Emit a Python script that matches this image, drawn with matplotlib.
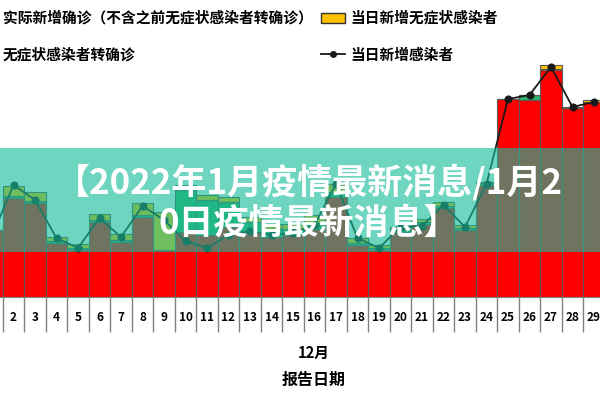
import numpy as np
import matplotlib
matplotlib.use('Agg')
import matplotlib.pyplot as plt
from matplotlib.patches import Patch, Rectangle
from matplotlib.lines import Line2D

plt.rcParams['font.family'] = ['Noto Sans CJK SC', 'DejaVu Sans']

# ---- data ----
days = np.arange(1, 30)
# day 1 sits off the left edge of the crop, its label is not shown
day_labels = [''] + [str(d) for d in days[1:]]
# 实际新增确诊（不含之前无症状感染者转确诊）
confirmed = [67, 99, 94, 54, 47, 75, 55, 80, 47, 65, 62, 70, 65, 60, 62,
             68, 100, 52, 47, 65, 73, 89, 67, 112, 198, 197, 227, 189, 195]
# 无症状感染者转确诊
converted = [0, 2, 2, 2, 2, 2, 2, 2, 0, 42, 35, 25, 10, 8, 6,
             6, 5, 2, 2, 2, 2, 2, 2, 2, 0, 5, 1, 0, 0]
# 当日新增无症状感染者
asymptomatic = [0, 10, 9, 4, 4, 6, 6, 12, 38, 5, 5, 5, 5, 5, 5,
                8, 8, 5, 3, 3, 3, 4, 3, 1, 0, 0, 4, 1, 2]
# 当日新增感染者
infected = [61, 112, 97, 59, 49, 79, 60, 91, 77, 56, 49, 62, 66, 62, 64,
            72, 113, 59, 49, 70, 71, 92, 70, 113, 198, 202, 230, 190, 195]

legend_labels = ['实际新增确诊（不含之前无症状感染者转确诊）', '无症状感染者转确诊',
                 '当日新增无症状感染者', '当日新增感染者']
banner_lines = ['【2022年1月疫情最新消息/1月2', '0日疫情最新消息】']

RED, GREEN, YELLOW = '#FF0000', '#33B06A', '#FFC000'
EDGE = '#5a5a5a'

W, H = 600, 400
def px_box(x0, y0, x1, y1):
    return [x0 / W, 1 - y1 / H, (x1 - x0) / W, (y1 - y0) / H]

fig = plt.figure(figsize=(6, 4), dpi=100)
ax = fig.add_axes(px_box(-18.75, 60, 604.75, 297))

conf = np.array(confirmed)
conv = np.array(converted)
ax.bar(days, conf, width=1.0, color=RED, edgecolor=EDGE, linewidth=0.8)
ax.bar(days, conv, width=1.0, bottom=conf, color=GREEN, edgecolor=EDGE, linewidth=0.8)
ax.bar(days, asymptomatic, width=1.0, bottom=conf + conv, color=YELLOW,
       edgecolor=EDGE, linewidth=0.8)
ax.plot(days, infected, color='#1a1a1a', lw=1.3, marker='o', ms=4.8, zorder=4)

ax.set_xlim(0.5, 29.5)
ax.set_ylim(0, 237)
for s in ['top', 'left', 'right']:
    ax.spines[s].set_visible(False)
ax.spines['bottom'].set_color('#808080')
ax.set_yticks([])

# separators between categories + labels in the middle
ax.set_xticks(np.arange(0.5, 30, 1))
ax.set_xticklabels([])
ax.tick_params(axis='x', which='major', length=25, width=1, color='#808080')
ax.set_xticks(days, minor=True)
ax.set_xticklabels(day_labels, minor=True, fontsize=8.5, fontweight='bold')
ax.tick_params(axis='x', which='minor', length=0, pad=10)

fig.text(314 / W, 1 - 353 / H, '12月', ha='center', va='center',
         fontsize=10.5, fontweight='bold')
fig.text(314 / W, 1 - 380 / H, '报告日期', ha='center', va='center',
         fontsize=11.5, fontweight='bold')

# legend (left column handles fall outside the crop, as in the reference)
handles = [Patch(facecolor=RED, edgecolor=EDGE),
           Patch(facecolor=GREEN, edgecolor=EDGE),
           Patch(facecolor=YELLOW, edgecolor='#333333'),
           Line2D([], [], color='#1a1a1a', lw=1.3, marker='o', ms=4)]
fig.legend(handles, legend_labels, ncol=2, loc='upper left',
           bbox_to_anchor=(-25.8 / W, 1 - 10 / H), frameon=False,
           prop={'size': 10.6, 'weight': 'bold'}, handlelength=1.6,
           handletextpad=0.35, columnspacing=0.6, labelspacing=1.4,
           borderpad=0, borderaxespad=0)

# banner overlay
fig.patches.append(Rectangle((0, 1 - 252 / H), 1, 104 / H, transform=fig.transFigure,
                             facecolor=(21 / 255, 188 / 255, 154 / 255), alpha=0.62,
                             edgecolor='none', zorder=5))
fig.text(309 / W, 1 - 182 / H, banner_lines[0], ha='center', va='center',
         color='white', fontsize=25.2, fontweight='bold', zorder=10)
fig.text(309 / W, 1 - 223 / H, banner_lines[1], ha='center', va='center',
         color='white', fontsize=25.2, fontweight='bold', zorder=10)

fig.savefig('out.png', dpi=100)
